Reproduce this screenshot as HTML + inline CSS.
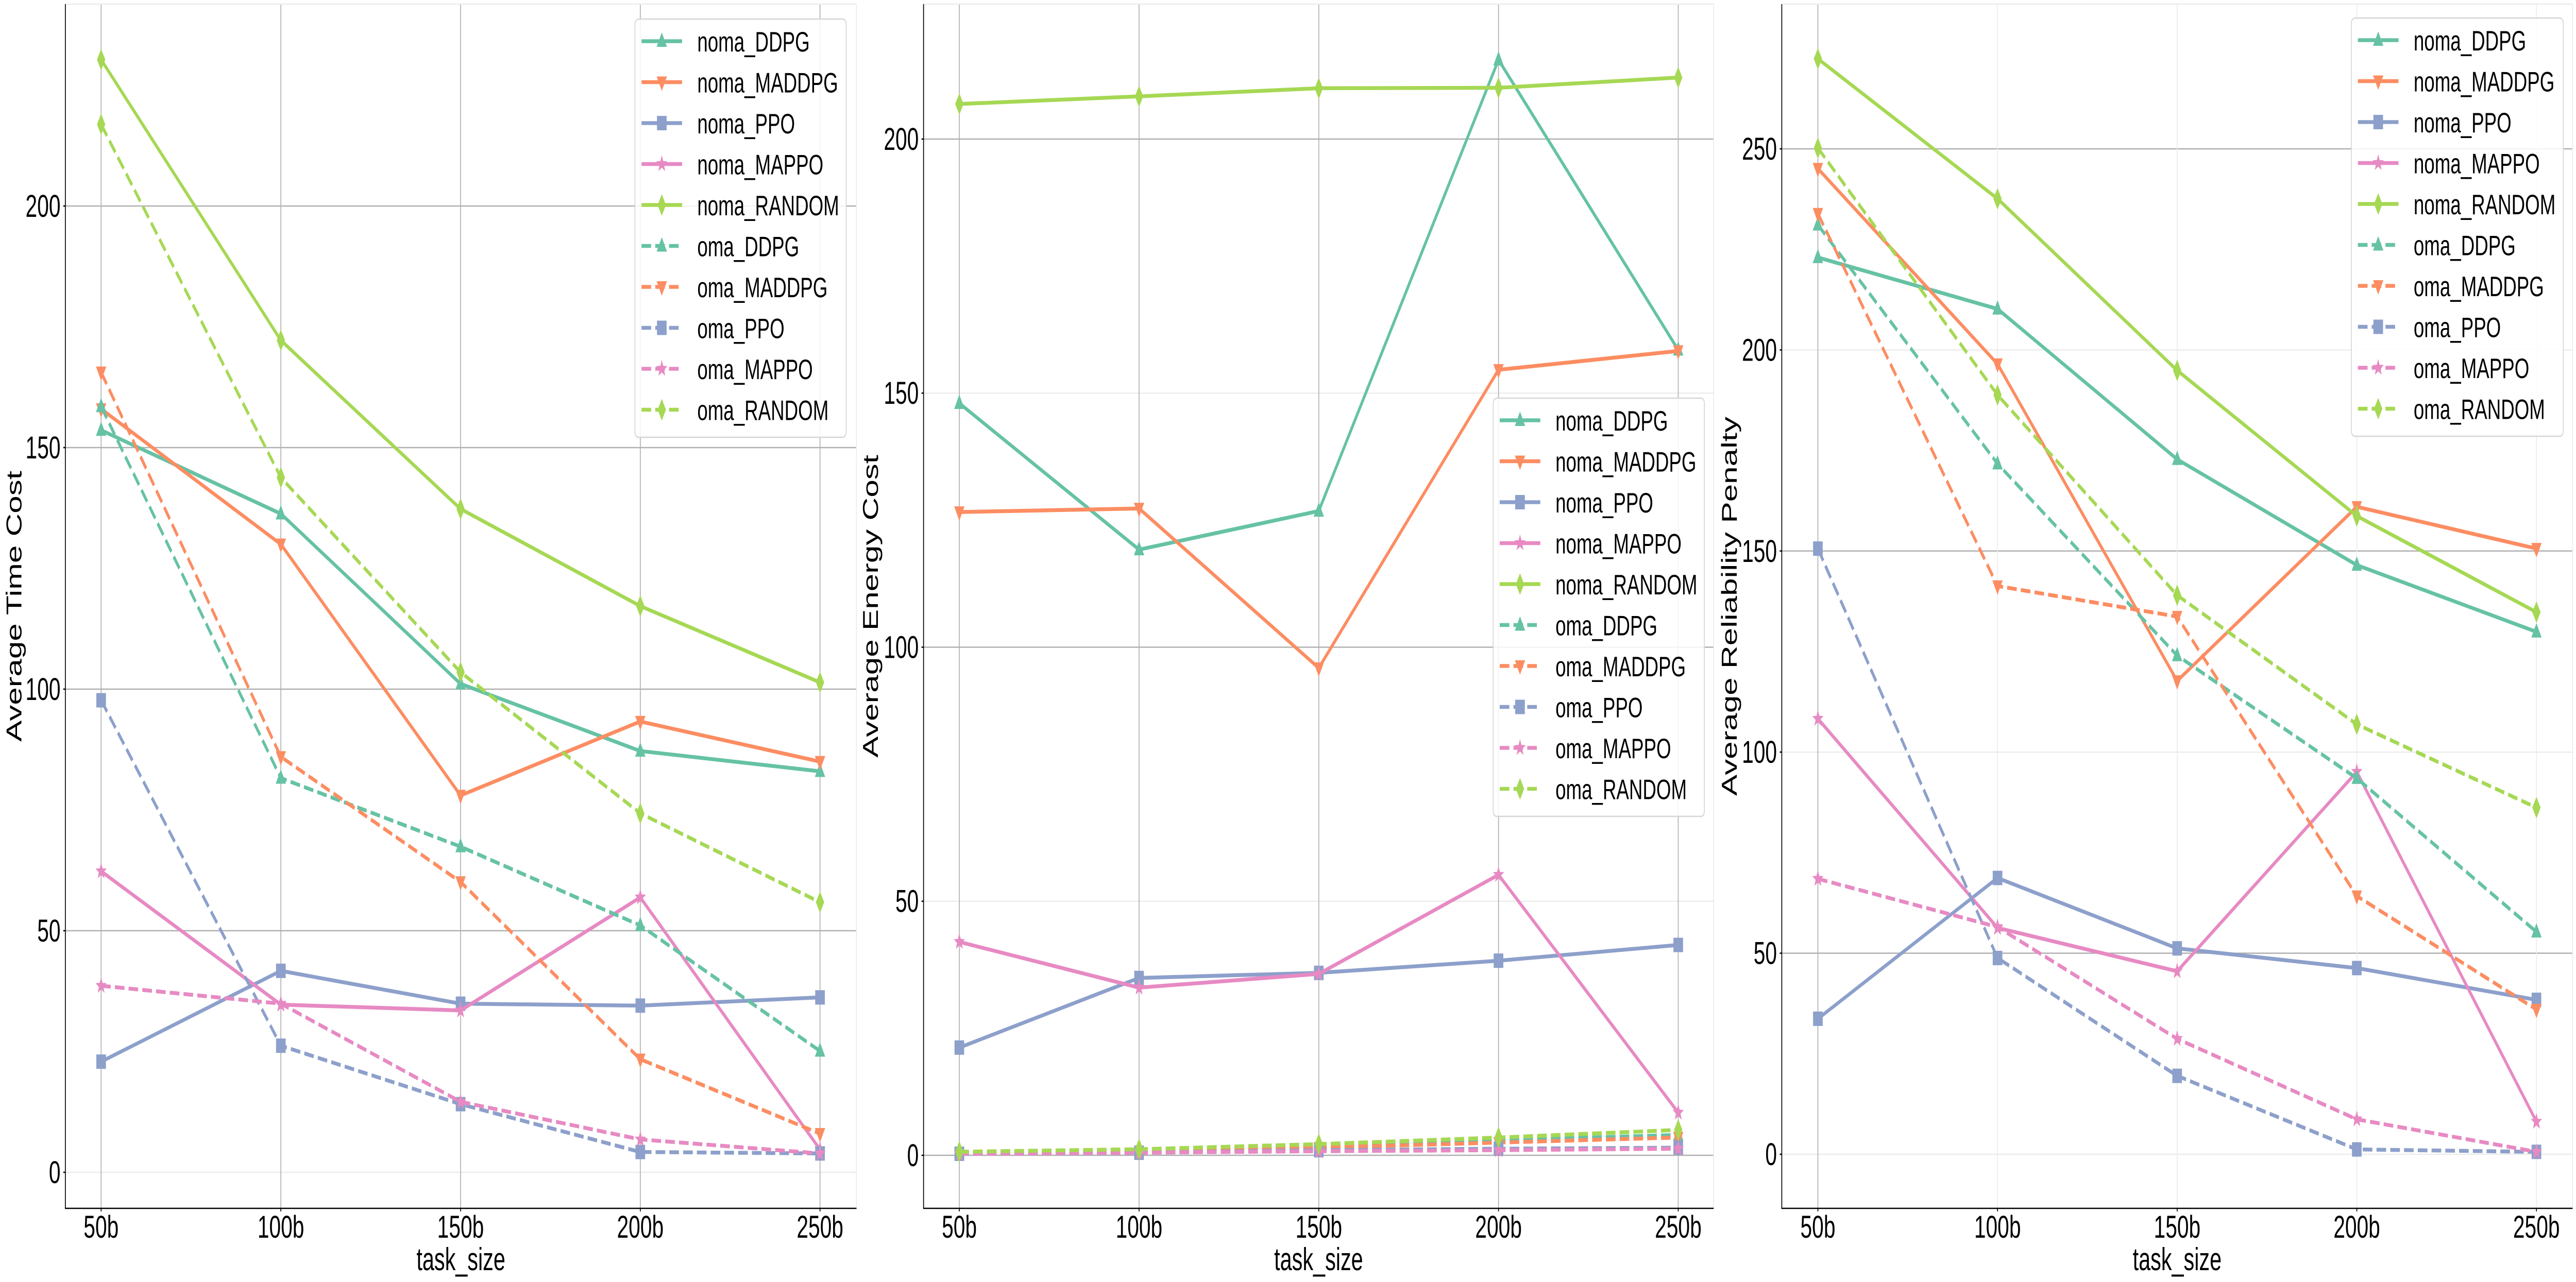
<!DOCTYPE html>
<html><head><meta charset="utf-8"><style>
html,body{margin:0;padding:0;background:#fff;width:100%;height:100%;overflow:hidden;}
svg{display:block;font-family:"Liberation Sans",Arial,sans-serif;width:100vw;height:100vh;}
</style></head><body>
<svg id="fig" viewBox="0 0 7489 2489" preserveAspectRatio="none" xmlns="http://www.w3.org/2000/svg"></svg>
<script>
const categories = ["50b","100b","150b","200b","250b"];
const seriesNames = ["noma_DDPG","noma_MADDPG","noma_PPO","noma_MAPPO","noma_RANDOM","oma_DDPG","oma_MADDPG","oma_PPO","oma_MAPPO","oma_RANDOM"];
// Panel 1: Average Time Cost
const time_noma_DDPG   = [153.6,136.3,101.1,87.2,83.0];
const time_noma_MADDPG = [158.0,130.0,78.0,93.3,85.0];
const time_noma_PPO    = [22.9,41.7,34.9,34.5,36.2];
const time_noma_MAPPO  = [62.3,34.7,33.5,56.9,4.7];
const time_noma_RANDOM = [230.3,172.2,137.3,117.2,101.4];
const time_oma_DDPG    = [158.5,81.6,67.4,51.1,25.1];
const time_oma_MADDPG  = [165.6,86.0,60.1,23.4,8.0];
const time_oma_PPO     = [97.7,26.2,14.1,4.2,3.9];
const time_oma_MAPPO   = [38.6,34.9,14.6,6.8,3.9];
const time_oma_RANDOM  = [216.9,143.8,103.5,74.3,55.9];
// Panel 2: Average Energy Cost
const energy_noma_DDPG   = [148.0,119.2,126.8,215.6,158.5];
const energy_noma_MADDPG = [126.6,127.3,95.9,154.6,158.3];
const energy_noma_PPO    = [21.2,34.9,35.9,38.3,41.4];
const energy_noma_MAPPO  = [42.0,33.0,35.7,55.2,8.4];
const energy_noma_RANDOM = [206.9,208.4,210.0,210.1,212.1];
const energy_oma_DDPG    = [0.5,1.0,2.0,3.0,4.0];
const energy_oma_MADDPG  = [0.5,0.8,1.5,2.5,3.5];
const energy_oma_PPO     = [0.3,0.5,1.0,1.3,1.5];
const energy_oma_MAPPO   = [0.3,0.5,0.8,1.0,1.3];
const energy_oma_RANDOM  = [0.7,1.2,2.2,3.5,5.0];
// Panel 3: Average Reliability Penalty
const rel_noma_DDPG   = [223.0,210.2,172.8,146.5,129.9];
const rel_noma_MADDPG = [245.1,196.5,117.7,161.0,150.6];
const rel_noma_PPO    = [33.7,68.7,51.2,46.3,38.4];
const rel_noma_MAPPO  = [108.3,56.3,45.5,95.1,8.1];
const rel_noma_RANDOM = [272.4,237.6,194.9,158.7,134.8];
const rel_oma_DDPG    = [231.1,171.7,124.0,93.5,55.3];
const rel_oma_MADDPG  = [233.9,141.3,133.7,64.2,36.0];
const rel_oma_PPO     = [150.6,48.8,19.5,1.2,0.6];
const rel_oma_MAPPO   = [68.5,56.5,28.7,8.7,0.6];
const rel_oma_RANDOM  = [250.2,188.8,139.0,106.9,86.2];

const timeTicks = [0,50,100,150,200];
const energyTicks = [0,50,100,150,200];
const relTicks = [0,50,100,150,200,250];

const colors = ["#66c2a5","#fc8d62","#8da0cb","#e78ac3","#a6d854"];
const markers = ["tri-up","tri-down","square","star","diamond"];
const NS = "http://www.w3.org/2000/svg";
const svg = document.getElementById("fig");
function mk(tag, attrs, parent){
  const e = document.createElementNS(NS, tag);
  for (const k in attrs) e.setAttribute(k, attrs[k]);
  (parent||svg).appendChild(e);
  return e;
}
function marker(g, type, cx, cy, color){
  let e;
  if (type==="tri-up"){
    e = mk("polygon",{points:`${cx},${cy-17} ${cx-15},${cy+11} ${cx+15},${cy+11}`,fill:color},g);
  } else if (type==="tri-down"){
    e = mk("polygon",{points:`${cx},${cy+17} ${cx-15},${cy-11} ${cx+15},${cy-11}`,fill:color},g);
  } else if (type==="square"){
    e = mk("rect",{x:cx-14,y:cy-14,width:28,height:28,fill:color},g);
  } else if (type==="star"){
    let pts=[];
    for(let i=0;i<10;i++){const r=i%2?7:17;const a=-Math.PI/2+i*Math.PI/5;pts.push((cx+r*Math.cos(a)).toFixed(1)+","+(cy+r*Math.sin(a)).toFixed(1));}
    e = mk("polygon",{points:pts.join(" "),fill:color},g);
  } else {
    e = mk("polygon",{points:`${cx},${cy-21} ${cx+12},${cy} ${cx},${cy+21} ${cx-12},${cy}`,fill:color},g);
  }
  
  
  return e;
}

const panels = [
  {key:"time", label:"Average Time Cost", left:190, right:2490, x0:294, x4:2384, yZero:2276, yRef:400, refVal:200, ticks:timeTicks,
   data:[time_noma_DDPG,time_noma_MADDPG,time_noma_PPO,time_noma_MAPPO,time_noma_RANDOM,time_oma_DDPG,time_oma_MADDPG,time_oma_PPO,time_oma_MAPPO,time_oma_RANDOM],
   darkY:[50,100,150,200], darkX:[0,1,2,3,4], leg:{x:1846,y:37,w:614}, ylabX:40},
  {key:"energy", label:"Average Energy Cost", left:2685, right:4982, x0:2789, x4:4879, yZero:2243, yRef:270, refVal:200, ticks:energyTicks,
   data:[energy_noma_DDPG,energy_noma_MADDPG,energy_noma_PPO,energy_noma_MAPPO,energy_noma_RANDOM,energy_oma_DDPG,energy_oma_MADDPG,energy_oma_PPO,energy_oma_MAPPO,energy_oma_RANDOM],
   darkY:[0,100,200], darkX:[0,1,2,3,4], leg:{x:4341,y:773,w:614}, ylabX:2530},
  {key:"reliability", label:"Average Reliability Penalty", left:5180, right:7479, x0:5285, x4:7374, yZero:2241, yRef:289, refVal:250, ticks:relTicks,
   data:[rel_noma_DDPG,rel_noma_MADDPG,rel_noma_PPO,rel_noma_MAPPO,rel_noma_RANDOM,rel_oma_DDPG,rel_oma_MADDPG,rel_oma_PPO,rel_oma_MAPPO,rel_oma_RANDOM],
   darkY:[50,150,250], darkX:[0], leg:{x:6836,y:35,w:616}, ylabX:5027}
];
const TOP=8, BOTTOM=2346;

panels.forEach(p=>{
  const g = mk("g",{});
  
  
  const xs = i => p.x0 + (p.x4-p.x0)*i/(categories.length-1);
  const ys = v => p.yZero - (p.yZero-p.yRef)*v/p.refVal;
  p.ticks.forEach(t=>{
    const l = mk("line",{x1:p.left,x2:p.right,y1:ys(t),y2:ys(t),stroke:p.darkY.includes(t)?"#b0b0b0":"#ececec","stroke-width":2.5},g);
    
    
  });
  categories.forEach((c,i)=>{
    const l = mk("line",{x1:xs(i),x2:xs(i),y1:TOP,y2:BOTTOM,stroke:p.darkX.includes(i)?"#b0b0b0":"#ececec","stroke-width":2.5},g);
    
    
  });
  mk("line",{x1:p.left,x2:p.right,y1:TOP,y2:TOP,stroke:"#ebebeb","stroke-width":2.5},g);
  mk("line",{x1:p.right,x2:p.right,y1:TOP,y2:BOTTOM,stroke:"#ebebeb","stroke-width":2.5},g);
  const ls = mk("line",{x1:p.left,x2:p.left,y1:TOP,y2:BOTTOM+1,stroke:"#000","stroke-width":2.5},g);
  
  
  const bs = mk("line",{x1:p.left-1,x2:p.right,y1:BOTTOM,y2:BOTTOM,stroke:"#000","stroke-width":2.5},g);
  
  
  p.ticks.forEach(t=>{
    mk("line",{x1:p.left-6,x2:p.left,y1:ys(t),y2:ys(t),stroke:"#000","stroke-width":2.5},g);
    const tx = mk("text",{x:p.left-14,y:ys(t)+21,"text-anchor":"end","font-size":61,fill:"#000"},g);
    tx.textContent = t;
    
    
  });
  categories.forEach((c,i)=>{
    mk("line",{x1:xs(i),x2:xs(i),y1:BOTTOM,y2:BOTTOM+6,stroke:"#000","stroke-width":2.5},g);
    const tx = mk("text",{x:xs(i),y:2403,"text-anchor":"middle","font-size":61,fill:"#000"},g);
    tx.textContent = c;
    
    
  });
  const xl = mk("text",{x:(p.left+p.right)/2,y:2466,"text-anchor":"middle","font-size":62,fill:"#000"},g);
  xl.textContent = "task_size";
  
  
  const ycen = (TOP+BOTTOM)/2;
  const yl = mk("text",{x:p.ylabX+22,y:ycen,"text-anchor":"middle","font-size":62,fill:"#000",transform:`rotate(-90 ${p.ylabX+22} ${ycen})`},g);
  yl.textContent = p.label;
  
  
  p.data.forEach((vals,si)=>{
    const ci = si%5, dashed = si>=5;
    const sg = mk("g",{},g);
    
    
    const pts = vals.map((v,i)=>xs(i).toFixed(1)+","+ys(v).toFixed(1)).join(" ");
    const pl = mk("polyline",{points:pts,fill:"none",stroke:colors[ci],"stroke-width":7.5,"stroke-linejoin":"round"},sg);
    if (dashed) pl.setAttribute("stroke-dasharray","28 12");
    
    
    vals.forEach((v,i)=>marker(sg, markers[ci], xs(i), ys(v), colors[ci]));
  });
  const lg = mk("g",{},g);
  
  
  const lb = mk("rect",{x:p.leg.x,y:p.leg.y,width:p.leg.w,height:812,rx:10,fill:"#fff","fill-opacity":0.85,stroke:"#d6d6d6","stroke-width":2.5},lg);
  
  
  seriesNames.forEach((n,si)=>{
    const ci = si%5, cy = p.leg.y + 43 + si*79.5;
    const eg = mk("g",{},lg);
    
    
    const ll = mk("line",{x1:p.leg.x+19,x2:p.leg.x+137,y1:cy,y2:cy,stroke:colors[ci],"stroke-width":7.5},eg);
    if (si>=5) ll.setAttribute("stroke-dasharray","28 12");
    marker(eg, markers[ci], p.leg.x+78, cy, colors[ci]);
    const t = mk("text",{x:p.leg.x+181,y:cy+20,"font-size":55,fill:"#000"},eg);
    t.textContent = n;
    
    
  });
});
</script>
</body></html>
